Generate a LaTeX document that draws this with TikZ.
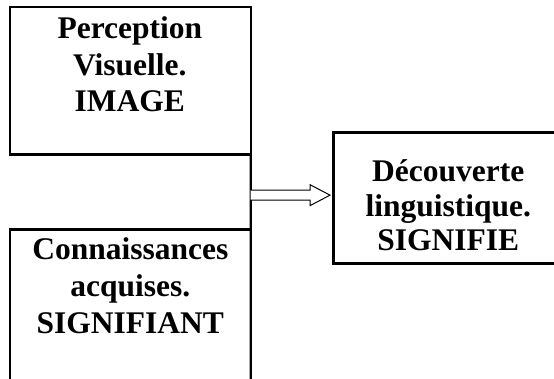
\documentclass[tikz,border=0pt]{standalone}
\usepackage{fontspec}
\setmainfont{Liberation Serif}
\usetikzlibrary{calc}
\begin{document}
\begin{tikzpicture}[x=1pt,y=-1pt,
  frame/.style={draw=none, rectangle, inner sep=0pt, outer sep=0pt},
  border/.style={line width=2.4pt, line join=miter},
  txt/.style={font=\bfseries\fontsize{31.5}{36.7}\selectfont, align=center, inner sep=0pt, anchor=north},
  txtr/.style={txt, font=\bfseries\fontsize{31.5}{34.5}\selectfont},
  hollow/.style={line width=1pt, fill=white, line join=miter}]
\useasboundingbox (0,0) rectangle (554,378);
% frames
\node[frame, minimum width=240.7pt, minimum height=147.6pt] (perc) at (130.35,80.5) {};
\node[frame, minimum width=240.7pt, minimum height=152pt] (know) at (130.35,305.3) {};
\node[frame, minimum width=224pt, minimum height=131pt] (disc) at (445.3,197.8) {};
% borders
\draw[border] (perc.north west) rectangle (perc.south east);
\draw[border] (know.south west) -- (know.north west) -- (know.north east);
\draw[border] (disc.north east) -- (disc.north west) -- (disc.south west) -- (disc.south east);
\coordinate (j) at ($(perc.south east)!0.18!(know.south east)$);
\draw[border] (perc.south east) -- (j) -- (know.south east);
% texts
\node[txt] (t1) at ($(perc.north)+(-0.5,9.8)$) {Perception\\Visuelle.\\IMAGE};
\node[txt] (t2) at ($(know.north)+(0,8.5)$) {Connaissances\\acquises.\\SIGNIFIANT};
\node[txtr] (t3) at ($(disc.north)+(3,27.5)$) {Découverte\\linguistique.\\SIGNIFIE};
% hollow arrow
\coordinate (tip) at ($(disc.west|-j)+(-3.3,0)$);
\draw[hollow] ($(j)+(0,-5)$) -- ($(tip)+(-20,-5)$) -- ($(tip)+(-20,-10.5)$) -- (tip)
  -- ($(tip)+(-20,10.5)$) -- ($(tip)+(-20,5)$) -- ($(j)+(0,5)$);
\end{tikzpicture}
\end{document}
